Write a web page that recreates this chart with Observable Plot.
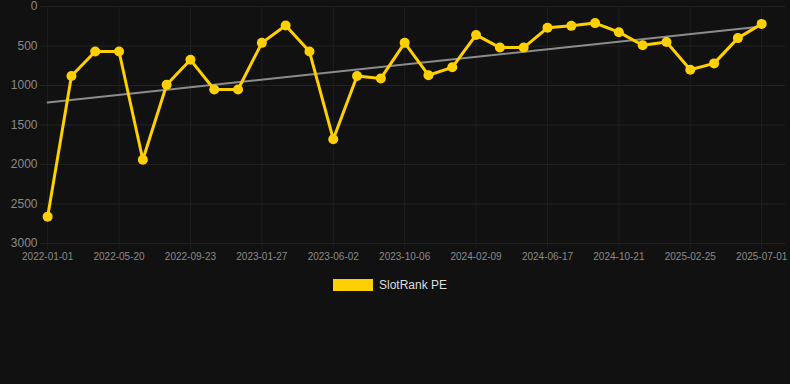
<!DOCTYPE html>
<html>
<head>
<meta charset="utf-8">
<script src="https://cdn.jsdelivr.net/npm/d3@7"></script>
<script src="https://cdn.jsdelivr.net/npm/@observablehq/plot@0.6"></script>
<style>
  html, body { margin: 0; padding: 0; background: #111111; }
  body { width: 790px; height: 384px; overflow: hidden; font-family: "Liberation Sans", Arial, sans-serif; }
  #legend { display: flex; justify-content: center; align-items: center; margin-top: 8px; padding-right: 10px; font-size: 12px; color: #dddddd; }
  #legend .sw { width: 40px; height: 12px; background: #ffd000; margin-right: 6px; }
</style>
</head>
<body>
<div id="chart"></div>
<div id="legend"><span class="sw"></span><span>SlotRank PE</span></div>
<script>
const dates = ["2022-01-01","2022-02-16","2022-04-03","2022-05-20","2022-07-01","2022-08-12","2022-09-23","2022-11-04","2022-12-16","2023-01-27","2023-03-10","2023-04-21","2023-06-02","2023-07-14","2023-08-25","2023-10-06","2023-11-17","2023-12-29","2024-02-09","2024-03-22","2024-05-05","2024-06-17","2024-07-29","2024-09-09","2024-10-21","2024-12-02","2025-01-13","2025-02-25","2025-04-08","2025-05-20","2025-07-01"];
const ranks = [2660,880,570,570,1940,990,675,1050,1050,460,240,570,1680,880,910,460,870,770,360,520,520,270,245,210,325,490,450,800,720,400,220];
const yTicks = [0,500,1000,1500,2000,2500,3000];
const xTickIdx = [0,3,6,9,12,15,18,21,24,27,30];
const seriesName = "SlotRank PE";

const data = dates.map((d, i) => ({i, date: d, rank: ranks[i]}));

const plot = Plot.plot({
  width: 790,
  height: 270,
  marginTop: 6,
  marginBottom: 27,
  marginLeft: 40,
  marginRight: 5,
  style: {background: "#111111", color: "#8a8a8a", fontFamily: "Liberation Sans, Arial, sans-serif"},
  x: {type: "linear", domain: [-0.3, 31], label: null},
  y: {domain: [0, 3000], reverse: true, label: null},
  marks: [
    Plot.gridY(yTicks, {stroke: "#222222", strokeOpacity: 1}),
    Plot.gridX(xTickIdx, {stroke: "#1f1f1f", strokeOpacity: 1}),
    Plot.axisY({ticks: yTicks, tickFormat: d => String(d), tickSize: 0, tickPadding: 3, fontSize: 12, fill: "#8a8a8a"}),
    Plot.axisX({ticks: xTickIdx, tickFormat: i => dates[i], tickSize: 6, stroke: "#1f1f1f", tickPadding: 3, fontSize: 10, fill: "#8a8a8a"}),
    Plot.linearRegressionY(data, {x: "i", y: "rank", ci: 0, stroke: "#8c8c8c", strokeWidth: 2}),
    Plot.line(data, {x: "i", y: "rank", stroke: "#ffd000", strokeWidth: 3}),
    Plot.dot(data, {x: "i", y: "rank", r: 5, fill: "#ffd000", stroke: "none"})
  ]
});
document.getElementById("chart").appendChild(plot);
document.querySelector("#legend span:last-child").textContent = seriesName;
</script>
</body>
</html>
